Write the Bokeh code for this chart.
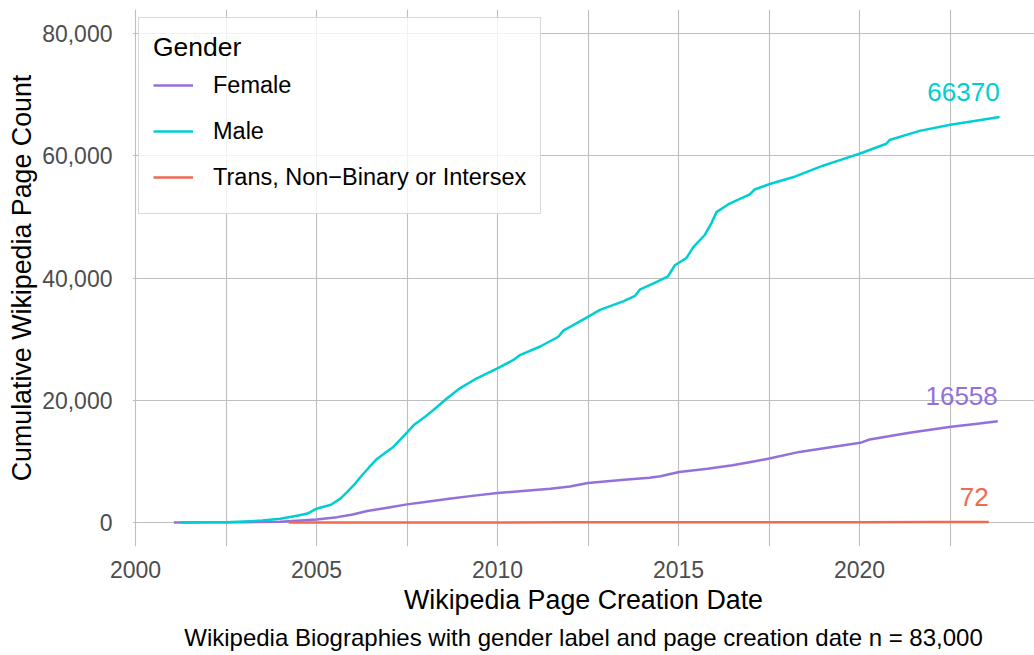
from bokeh.plotting import figure
from bokeh.models import Range1d, FixedTicker, NumeralTickFormatter, Legend, LegendItem, Title
from bokeh.core.properties import value
from bokeh.embed import file_html
from bokeh.resources import INLINE

FONT = "Liberation Sans"
FEMALE_C = "#9370DB"
MALE_C = "#00CED1"
TRANS_C = "#EE6A50"

# ---- data (decimal years, cumulative page counts) ----
female_x = [2001.06, 2002.0, 2003.0, 2004.0, 2004.56, 2005.0, 2005.57, 2006.0, 2006.4, 2007.0,
            2007.5, 2008.0, 2008.66, 2009.3, 2010.0, 2010.7, 2011.46, 2012.0, 2012.5, 2013.5,
            2014.2, 2014.5, 2015.02, 2015.8, 2016.49, 2017.0, 2017.51, 2018.34, 2019.2, 2020.02,
            2020.28, 2021.38, 2022.53, 2023.2, 2023.82]
female_y = [0, 20, 50, 110, 330, 490, 870, 1300, 1860, 2450,
            2960, 3350, 3890, 4350, 4810, 5150, 5530, 5900, 6450, 7000,
            7300, 7550, 8260, 8800, 9370, 9900, 10460, 11550, 12300, 13030,
            13580, 14680, 15660, 16100, 16558]

male_x = [2001.24, 2002.0, 2002.5, 2003.0, 2003.5, 2004.0, 2004.5, 2004.75, 2005.0, 2005.4,
          2005.66, 2005.85, 2006.03, 2006.21, 2006.45, 2006.67, 2006.9, 2007.13, 2007.51, 2007.68,
          2008.0, 2008.23, 2008.6, 2008.97, 2009.43, 2010.01, 2010.44, 2010.62, 2011.18, 2011.68,
          2011.82, 2012.51, 2012.83, 2013.47, 2013.8, 2013.93, 2014.4, 2014.71, 2014.9, 2015.22,
          2015.4, 2015.73, 2015.91, 2016.05, 2016.41, 2016.97, 2017.1, 2017.52, 2018.16, 2018.99,
          2019.5, 2020.02, 2020.74, 2020.83, 2021.66, 2022.51, 2023.04, 2023.87]
male_y = [0, 20, 50, 150, 300, 600, 1150, 1450, 2250, 2900,
          3900, 5000, 6100, 7400, 9000, 10400, 11400, 12400, 14800, 15900,
          17300, 18400, 20300, 22000, 23600, 25250, 26600, 27400, 28800, 30400,
          31400, 33700, 34800, 36200, 37100, 38100, 39400, 40300, 42100, 43300,
          45000, 47100, 49000, 50800, 52200, 53700, 54500, 55400, 56500, 58400,
          59400, 60400, 62000, 62600, 64100, 65100, 65600, 66370]

trans_x = [2004.23, 2006.0, 2008.0, 2010.0, 2012.0, 2014.0, 2016.0, 2018.0, 2020.0, 2022.0, 2023.57]
trans_y = [1, 3, 6, 10, 15, 22, 30, 40, 52, 63, 72]

x_ticks = [2000, 2005, 2010, 2015, 2020]
x_grid_ticks = [2000, 2002.5, 2005, 2007.5, 2010, 2012.5, 2015, 2017.5, 2020, 2022.5, 2025]
y_ticks = [0, 20000, 40000, 60000, 80000]

legend_title = "Gender"
series_names = ["Female", "Male", "Trans, Non\u2212Binary or Intersex"]
x_title = "Wikipedia Page Creation Date"
y_title = "Cumulative Wikipedia Page Count"
caption = "Wikipedia Biographies with gender label and page creation date n = 83,000"

p = figure(width=1034, height=655, output_backend="svg", toolbar_location=None,
           x_range=Range1d(1999.917, 2024.834), y_range=Range1d(-3937, 83971),
           min_border_left=132, min_border_right=0, min_border_top=9, min_border_bottom=100)
p.outline_line_color = None
p.background_fill_color = "white"
p.border_fill_color = "white"

# grid
p.xgrid.ticker = FixedTicker(ticks=x_grid_ticks)
p.ygrid.ticker = FixedTicker(ticks=y_ticks)
for g in (p.xgrid, p.ygrid):
    g.grid_line_color = "#BEBEBE"
    g.grid_line_width = 1.1

# axes
for ax in (p.xaxis, p.yaxis):
    ax.axis_line_color = None
    ax.major_tick_line_color = None
    ax.minor_tick_line_color = None
    ax.major_label_text_font = FONT
    ax.major_label_text_font_size = "23px"
    ax.major_label_text_color = "#4D4D4D"
p.xaxis.ticker = FixedTicker(ticks=x_ticks)
p.xaxis.major_label_standoff = 8
p.yaxis.ticker = FixedTicker(ticks=y_ticks)
p.yaxis.formatter = NumeralTickFormatter(format="0,0")
p.yaxis.major_label_standoff = 14
p.yaxis.axis_label = y_title
p.yaxis.axis_label_text_font = FONT
p.yaxis.axis_label_text_font_size = "26.8px"
p.yaxis.axis_label_text_font_style = "normal"
p.yaxis.axis_label_text_color = "black"
p.yaxis.axis_label_standoff = 2

# lines
rf = p.line(female_x, female_y, line_color=FEMALE_C, line_width=2.5, line_join="round")
rm = p.line(male_x, male_y, line_color=MALE_C, line_width=2.5, line_join="round")
rt = p.line(trans_x, trans_y, line_color=TRANS_C, line_width=2.5, line_join="round")

# end labels
for xs, ys, c in ((male_x, male_y, MALE_C), (female_x, female_y, FEMALE_C), (trans_x, trans_y, TRANS_C)):
    p.text(x=[xs[-1]], y=[ys[-1]], text=[str(ys[-1])], text_align="right",
           text_baseline="alphabetic", y_offset=-25, text_font=value(FONT),
           text_font_size="26px", text_color=c)

# legend
legend = Legend(items=[LegendItem(label=series_names[0], renderers=[rf]),
                       LegendItem(label=series_names[1], renderers=[rm]),
                       LegendItem(label=series_names[2], renderers=[rt])],
                location=(6, 332), title=legend_title,
                title_text_font=FONT, title_text_font_size="26.5px", title_text_font_style="normal",
                title_text_color="black", title_standoff=0,
                label_text_font=FONT, label_text_font_size="23.5px", label_text_color="black",
                glyph_width=40, glyph_height=44, label_height=44, label_standoff=20,
                spacing=2, padding=14, margin=0,
                border_line_color="#B3B3B3", border_line_width=1.3,
                background_fill_color="white", background_fill_alpha=0.8)
p.add_layout(legend)

# bottom titles
t1 = Title(text=x_title, align="center", offset=8, text_font=FONT, text_font_size="26.8px",
           text_font_style="normal", text_color="black", standoff=5)
p.add_layout(t1, "below")
t2 = Title(text=caption, align="center", offset=8, text_font=FONT, text_font_size="24px",
           text_font_style="normal", text_color="black", standoff=9)
p.add_layout(t2, "below")

open("out.html", "w").write(file_html(p, INLINE))
